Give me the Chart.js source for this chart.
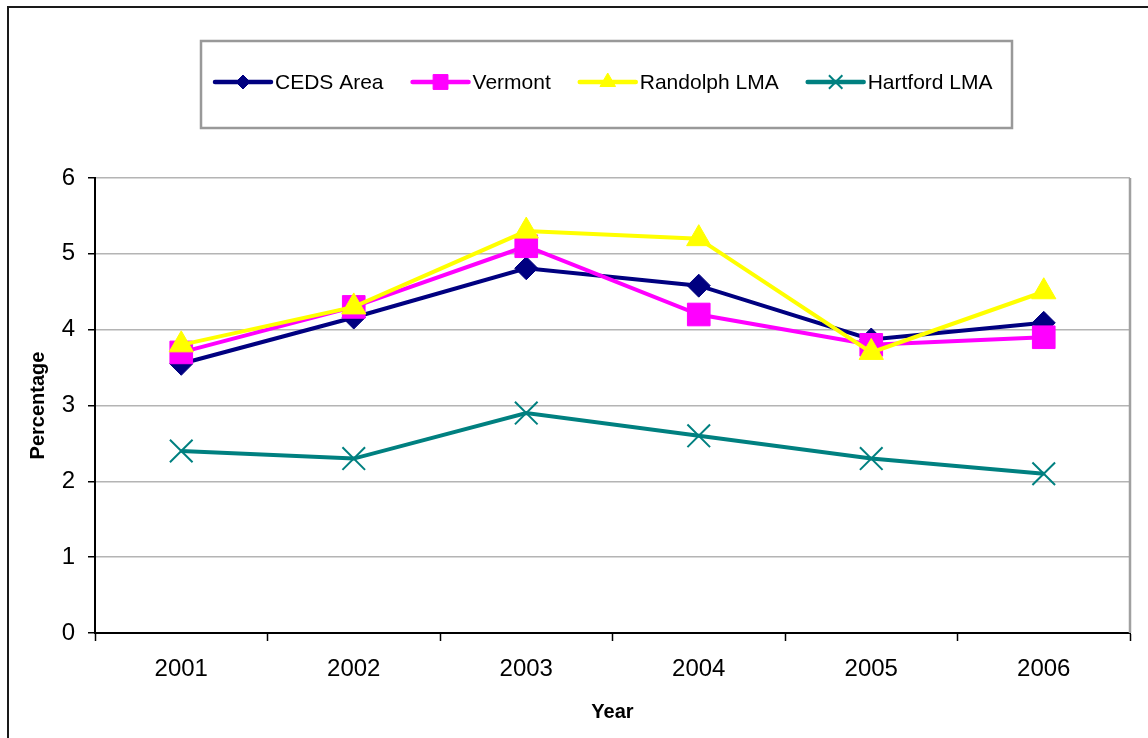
<!DOCTYPE html>
<html>
<head>
<meta charset="utf-8">
<script src="https://cdn.jsdelivr.net/npm/chart.js"></script>
<style>
  html, body { margin: 0; padding: 0; background: #fff; }
  #chartBox { position: relative; width: 1148px; height: 738px; }
</style>
</head>
<body>
<div id="chartBox"><canvas id="rateChart" width="1148" height="738"></canvas></div>
<script>
// Taux annuels par zone
const years = ['2001', '2002', '2003', '2004', '2005', '2006'];
const cedsArea = [3.55, 4.16, 4.81, 4.58, 3.87, 4.09];
const vermont = [3.7, 4.3, 5.1, 4.2, 3.8, 3.9];
const randolphLma = [3.8, 4.3, 5.3, 5.2, 3.7, 4.5];
const hartfordLma = [2.4, 2.3, 2.9, 2.6, 2.3, 2.1];
const yTicks = [0, 1, 2, 3, 4, 5, 6];

Chart.defaults.font.family = '"Liberation Sans", Arial, sans-serif';
Chart.defaults.color = '#000';

// petite taille des symboles dans la légende
const legendRadius = { rectRot: 7, rect: 10.5, triangle: 9, crossRot: 9.5 };

// cadre extérieur + bord droit de la zone de tracé
const framePlugin = {
    id: 'frame',
    beforeDraw(chart) {
        const ctx = chart.ctx;
        ctx.save();
        ctx.fillStyle = '#fff';
        ctx.fillRect(0, 0, chart.width, chart.height);
        ctx.strokeStyle = '#1a1a1a';
        ctx.lineWidth = 2;
        ctx.beginPath();
        ctx.moveTo(8, chart.height);
        ctx.lineTo(8, 7);
        ctx.lineTo(chart.width, 7);
        ctx.stroke();
        ctx.restore();
    },
    beforeDatasetsDraw(chart) {
        const { ctx, chartArea } = chart;
        ctx.save();
        ctx.strokeStyle = '#a0a0a0';
        ctx.lineWidth = 2.5;
        ctx.beginPath();
        ctx.moveTo(chartArea.right, chartArea.top);
        ctx.lineTo(chartArea.right, chartArea.bottom);
        ctx.stroke();
        ctx.restore();
    }
};

// légende dans un encadré, trait + symbole pour chaque série
const boxLegendPlugin = {
    id: 'boxLegend',
    afterDraw(chart) {
        const ctx = chart.ctx;
        ctx.save();
        ctx.strokeStyle = '#999';
        ctx.lineWidth = 2.5;
        ctx.strokeRect(201, 41, 811, 87);
        ctx.font = '21px "Liberation Sans", Arial, sans-serif';
        ctx.textBaseline = 'middle';
        ctx.textAlign = 'left';
        let x = 215;
        const y = 82;
        chart.data.datasets.forEach(ds => {
            ctx.strokeStyle = ds.borderColor;
            ctx.lineWidth = 4.5;
            ctx.lineCap = 'round';
            ctx.beginPath();
            ctx.moveTo(x, y);
            ctx.lineTo(x + 56, y);
            ctx.stroke();
            ctx.fillStyle = ds.pointBackgroundColor;
            ctx.strokeStyle = ds.borderColor;
            ctx.lineWidth = ds.pointBorderWidth;
            ctx.lineCap = 'butt';
            Chart.helpers.drawPoint(ctx, {
                pointStyle: ds.pointStyle,
                radius: legendRadius[ds.pointStyle],
                rotation: 0,
                borderWidth: ds.pointBorderWidth
            }, x + 28, y);
            ctx.fillStyle = '#000';
            ctx.fillText(ds.label, x + 60, y + 1);
            x += 60 + ctx.measureText(ds.label).width + 29;
        });
        ctx.restore();
    }
};

const ctxRate = document.getElementById('rateChart').getContext('2d');
const rateChart = new Chart(ctxRate, {
    type: 'line',
    data: {
        labels: years,
        datasets: [
            {
                label: 'CEDS Area',
                data: cedsArea,
                borderColor: '#000080',
                pointBackgroundColor: '#000080',
                pointStyle: 'rectRot',
                pointRadius: 11.5,
                pointBorderWidth: 1,
                order: 3
            },
            {
                label: 'Vermont',
                data: vermont,
                borderColor: '#ff00ff',
                pointBackgroundColor: '#ff00ff',
                pointStyle: 'rect',
                pointRadius: 16,
                pointBorderWidth: 1,
                order: 2
            },
            {
                label: 'Randolph LMA',
                data: randolphLma,
                borderColor: '#ffff00',
                pointBackgroundColor: '#ffff00',
                pointStyle: 'triangle',
                pointRadius: 14,
                pointBorderWidth: 1,
                order: 1
            },
            {
                label: 'Hartford LMA',
                data: hartfordLma,
                borderColor: '#008080',
                pointBackgroundColor: '#008080',
                pointStyle: 'crossRot',
                pointRadius: 16,
                pointBorderWidth: 2,
                order: 4
            }
        ]
    },
    options: {
        responsive: false,
        animation: false,
        events: [],
        elements: {
            line: { borderWidth: 4, tension: 0 },
            point: { hoverRadius: 0 }
        },
        layout: {
            padding: { top: 178, right: 15, left: 0, bottom: 0 }
        },
        plugins: {
            legend: { display: false },
            tooltip: { enabled: false }
        },
        scales: {
            x: {
                type: 'category',
                offset: true,
                afterFit: s => { s.height = 105; },
                grid: {
                    offset: true,
                    drawOnChartArea: false,
                    drawTicks: true,
                    tickLength: 8,
                    tickColor: '#000',
                    tickWidth: 1.5
                },
                border: { color: '#000', width: 2 },
                ticks: {
                    font: { size: 24 },
                    color: '#000',
                    padding: 14,
                    maxRotation: 0
                },
                title: {
                    display: true,
                    text: 'Year',
                    font: { size: 20, weight: 'bold' },
                    color: '#000',
                    padding: { top: 0, bottom: 14 }
                }
            },
            y: {
                min: 0,
                max: 6,
                afterFit: s => { s.width = 95; },
                afterBuildTicks: s => { s.ticks = yTicks.map(v => ({ value: v })); },
                grid: {
                    color: '#b4b4b4',
                    lineWidth: 1.5,
                    drawTicks: true,
                    tickLength: 7,
                    tickColor: '#000',
                    tickWidth: 1.5
                },
                border: { color: '#000', width: 2 },
                ticks: {
                    font: { size: 24 },
                    color: '#000',
                    padding: 13
                },
                title: {
                    display: true,
                    text: 'Percentage',
                    font: { size: 20, weight: 'bold' },
                    color: '#000',
                    padding: { top: 26, bottom: 0 }
                }
            }
        }
    },
    plugins: [framePlugin, boxLegendPlugin]
});
</script>
</body>
</html>
